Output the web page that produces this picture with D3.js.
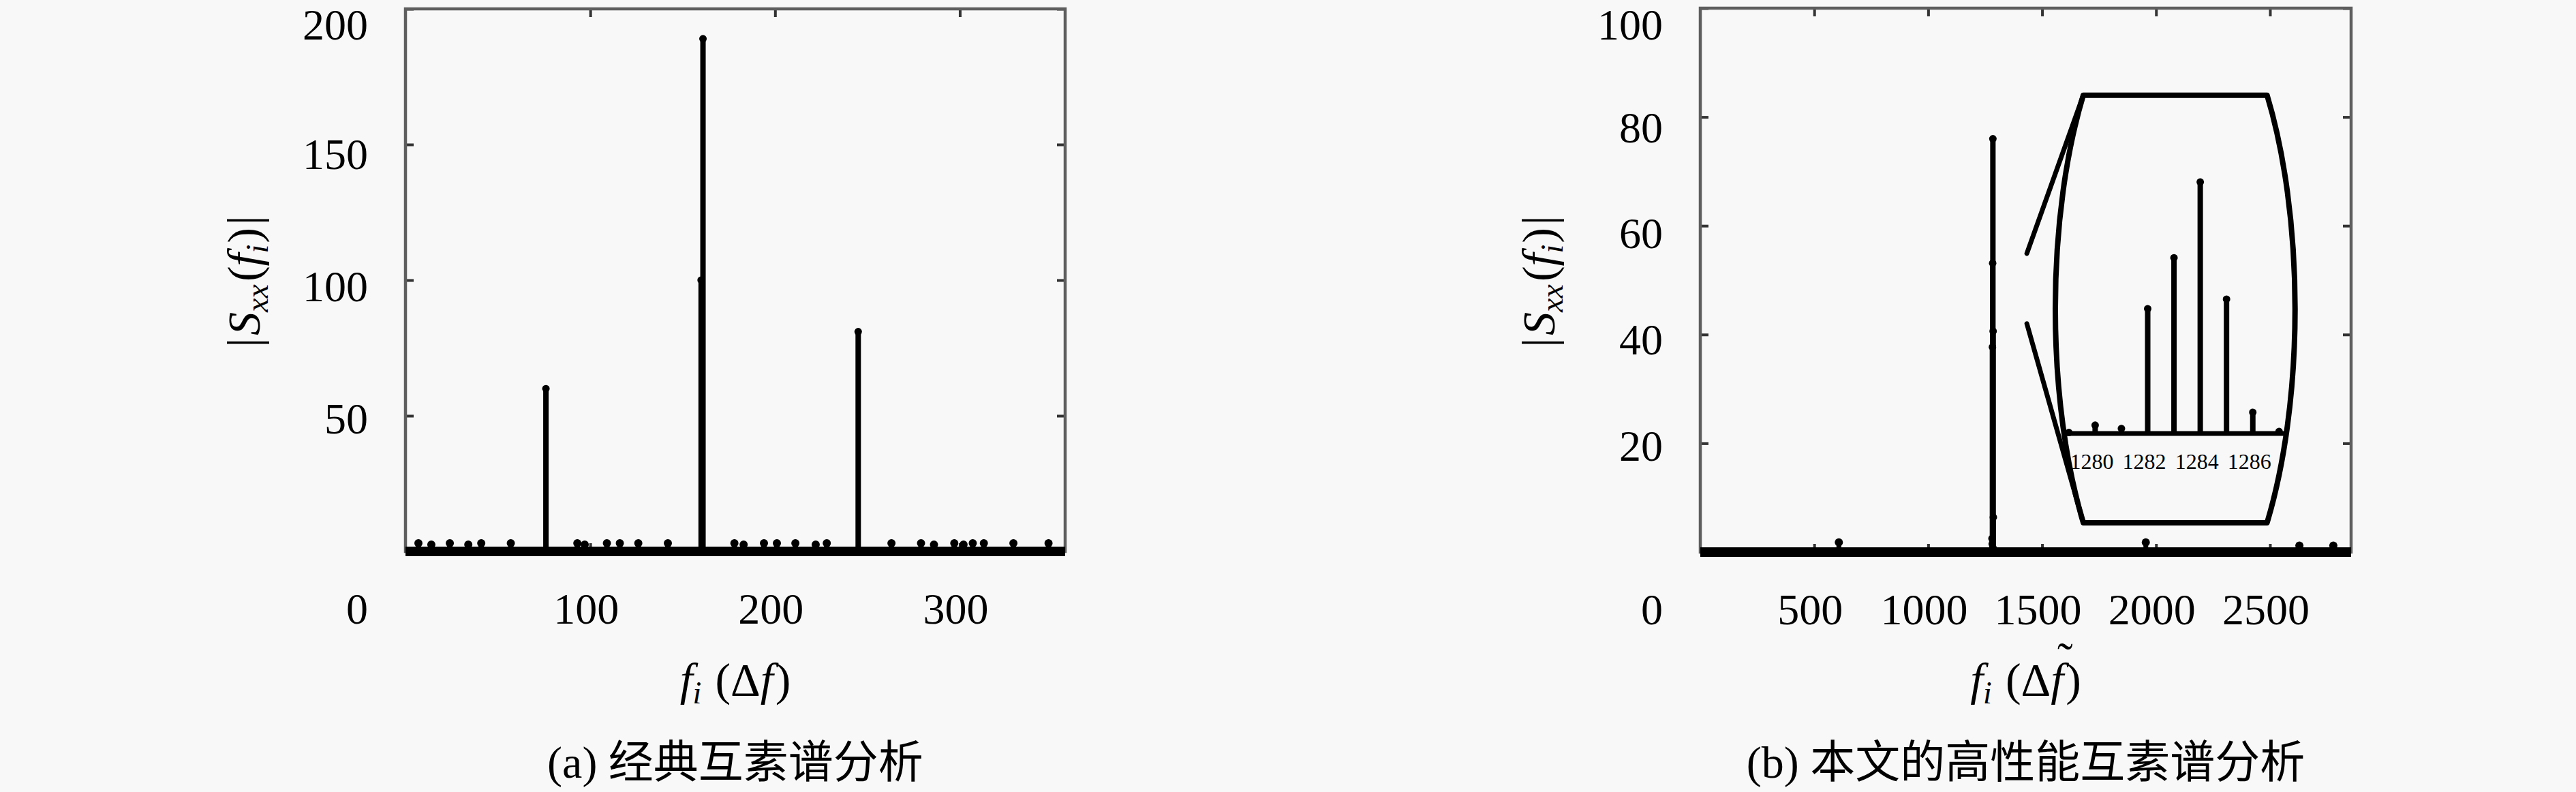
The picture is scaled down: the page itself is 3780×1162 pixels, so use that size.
<!DOCTYPE html>
<html><head><meta charset="utf-8">
<script src="https://cdn.jsdelivr.net/npm/d3@7/dist/d3.min.js"></script>
<style>
html,body{margin:0;padding:0;background:#f8f8f8;}
svg{display:block;}
text{font-family:"Liberation Serif","Noto Sans CJK SC",serif;fill:#000;}
</style></head><body>
<svg id="c" width="3780" height="1162"></svg>
<script>
// ---------- data ----------
// panel (a): classical co-prime cross spectrum
const aXTicks = [100, 200, 300];
const aYTicks = [50, 100, 150, 200];
const aNoiseBins = [7, 14, 24, 34, 41, 57, 93, 97, 109, 116, 126, 142, 178, 183, 194, 201, 211, 222, 228, 263, 279, 286, 297, 302, 307, 313, 329, 348];
const aNoiseVals = [3, 2.5, 3, 2.5, 3, 3, 3, 2.5, 3, 3, 3, 3, 3, 2.5, 3, 3, 3, 2.5, 3, 3, 3, 2.5, 3, 2.5, 3, 3, 3, 3];
const aPeakBins = [76, 160, 161, 245];
const aPeakVals = [60, 100, 189, 81];

// panel (b): high-performance co-prime cross spectrum
const bXTicks = [500, 1000, 1500, 2000, 2500];
const bYTicks = [20, 40, 60, 80, 100];
const bNoiseBins = [608, 1955, 2629, 2778];
const bNoiseVals = [1.8, 1.8, 1.2, 1.2];
const bPeakBins = [1279, 1280, 1281, 1282, 1283, 1284, 1285, 1286, 1287];
const bPeakVals = [0.3, 2.5, 1.5, 37.7, 53.1, 76, 40.6, 6.4, 0.6];
const insetTicks = [1280, 1282, 1284, 1286];

const captionA = "(a) 经典互素谱分析";
const captionB = "(b) 本文的高性能互素谱分析";

// ---------- drawing ----------
const svg = d3.select("#c");
svg.append("rect").attr("width", 3780).attr("height", 1162).attr("fill", "#f8f8f8");

function panel(cfg) {
  const x = d3.scaleLinear().domain(cfg.xDomain).range(cfg.xRange);
  const y = d3.scaleLinear().domain(cfg.yDomain).range(cfg.yRange);
  const g = svg.append("g");
  const tl = 12;
  // inward ticks on all four sides
  [[d3.axisBottom(x), y.range()[0]], [d3.axisTop(x), y.range()[1]]].forEach(([ax, ty]) => {
    const a = g.append("g").attr("transform", `translate(0,${ty})`)
      .call(ax.tickValues(cfg.xTicks).tickSize(-tl).tickFormat(""));
    a.select(".domain").remove();
    a.selectAll("line").attr("stroke", "#333").attr("stroke-width", 4);
  });
  [[d3.axisLeft(y), x.range()[0]], [d3.axisRight(y), x.range()[1]]].forEach(([ax, tx]) => {
    const a = g.append("g").attr("transform", `translate(${tx},0)`)
      .call(ax.tickValues(cfg.yTicks).tickSize(-tl).tickFormat(""));
    a.select(".domain").remove();
    a.selectAll("line").attr("stroke", "#333").attr("stroke-width", 4);
  });
  // frame
  g.append("rect")
    .attr("x", x.range()[0]).attr("y", y.range()[1])
    .attr("width", x.range()[1] - x.range()[0]).attr("height", y.range()[0] - y.range()[1])
    .attr("fill", "none").attr("stroke", "#5e5e5e").attr("stroke-width", 4.5);

  // stem baseline
  g.append("line")
    .attr("x1", x(cfg.xDomain[0])).attr("x2", x(cfg.xDomain[1]))
    .attr("y1", y(0)).attr("y2", y(0))
    .attr("stroke", "#000").attr("stroke-width", 14);

  function stems(bins, vals, w, r) {
    const d = bins.map((b, i) => ({ b, v: vals[i] }));
    g.append("g").selectAll("line").data(d).join("line")
      .attr("x1", p => x(p.b)).attr("x2", p => x(p.b))
      .attr("y1", y(0)).attr("y2", p => y(p.v))
      .attr("stroke", "#000").attr("stroke-width", w);
    g.append("g").selectAll("circle").data(d).join("circle")
      .attr("cx", p => x(p.b)).attr("cy", p => y(p.v)).attr("r", r).attr("fill", "#000");
  }
  stems(cfg.noiseBins, cfg.noiseVals, 7, 6);
  stems(cfg.peakBins, cfg.peakVals, 8, 5.5);

  // y tick labels
  const y0 = y(0);
  g.append("g").selectAll("text").data(cfg.yTicks).join("text")
    .attr("x", x.range()[0] - 55)
    .attr("y", v => Math.max(y(v) + 0.025 * (y0 - y(v)), 37))
    .attr("dy", "0.33em")
    .attr("text-anchor", "end").attr("font-size", 64)
    .text(v => v);
  // x tick labels
  g.append("g").selectAll("text").data(cfg.xTicks).join("text")
    .attr("x", v => x(v) - 6).attr("y", y0 + 106)
    .attr("text-anchor", "middle").attr("font-size", 64)
    .text(v => v);
  // origin label
  g.append("text").attr("x", x(0) - 71).attr("y", y0 + 106)
    .attr("text-anchor", "middle").attr("font-size", 64).text("0");

  const cx = (x.range()[0] + x.range()[1]) / 2;
  // x title
  const xt = g.append("text").attr("x", cx).attr("y", 1020)
    .attr("text-anchor", "middle").attr("font-size", 68);
  xt.append("tspan").attr("font-style", "italic").text("f");
  xt.append("tspan").attr("font-size", 46).attr("font-style", "italic").attr("dy", 12).text("i");
  xt.append("tspan").attr("dy", -12).attr("dx", 20).text("(Δ");
  const lastF = xt.append("tspan").attr("font-style", "italic").text("f");
  xt.append("tspan").attr("dx", 3).text(")");
  if (cfg.tilde) {
    const bb = lastF.node().getBBox();
    g.append("text").attr("x", bb.x + bb.width * 0.78).attr("y", 1020 - 30)
      .attr("text-anchor", "middle").attr("font-size", 68).text("˜");
  }
  // y title
  const yt = g.append("text")
    .attr("transform", `translate(${x.range()[0] - 214},${(y.range()[0] + y.range()[1]) / 2 + 2}) rotate(-90)`)
    .attr("text-anchor", "middle").attr("font-size", 68);
  yt.append("tspan").text("|");
  yt.append("tspan").attr("font-style", "italic").attr("dx", 4).text("S");
  yt.append("tspan").attr("font-style", "italic").attr("font-size", 46).attr("dy", 12).text("xx");
  yt.append("tspan").attr("dy", -12).attr("dx", 4).text("(");
  yt.append("tspan").attr("font-style", "italic").text("f");
  yt.append("tspan").attr("font-style", "italic").attr("font-size", 46).attr("dy", 12).text("i");
  yt.append("tspan").attr("dy", -12).attr("dx", 2).text(")");
  yt.append("tspan").attr("dx", 4).text("|");
  // caption
  g.append("text").attr("x", cx).attr("y", 1141)
    .attr("text-anchor", "middle").attr("font-size", 66).text(cfg.caption);
  return { x, y, g };
}

panel({
  xDomain: [0, 357], yDomain: [0, 200], xRange: [595, 1563], yRange: [809, 13],
  xTicks: aXTicks, yTicks: aYTicks,
  noiseBins: aNoiseBins, noiseVals: aNoiseVals, peakBins: aPeakBins, peakVals: aPeakVals,
  caption: captionA, tilde: false
});

const pb = panel({
  xDomain: [0, 2856], yDomain: [0, 100], xRange: [2495, 3450], yRange: [810, 12],
  xTicks: bXTicks, yTicks: bYTicks,
  noiseBins: bNoiseBins, noiseVals: bNoiseVals, peakBins: bPeakBins, peakVals: bPeakVals,
  caption: captionB, tilde: true
});

// ---------- magnifier annotation (in panel b data units) ----------
const mag = { cx: 2084, rx: 526, cy: 44.7, ry: 61.2, top: 84, bot: 5.4, fromX: 1433, fromTop: 54.9, fromBot: 42 };
{
  const { x, y, g } = pb;
  const cxp = x(mag.cx), rxp = x(mag.cx + mag.rx) - cxp;
  const cyp = y(mag.cy), ryp = y(mag.cy - mag.ry) - cyp;
  const yt = y(mag.top), yb = y(mag.bot);
  const hw = yy => rxp * Math.sqrt(1 - Math.pow((yy - cyp) / ryp, 2));
  const ht = hw(yt), hb = hw(yb);
  const path = `M${cxp - ht},${yt} L${cxp + ht},${yt} A${rxp},${ryp} 0 0 1 ${cxp + hb},${yb} L${cxp - hb},${yb} A${rxp},${ryp} 0 0 1 ${cxp - ht},${yt} Z`;
  g.append("path").attr("d", path).attr("fill", "#f8f8f8").attr("stroke", "#000")
    .attr("stroke-width", 8).attr("stroke-linejoin", "round");
  g.append("line").attr("x1", x(mag.fromX)).attr("y1", y(mag.fromTop)).attr("x2", cxp - ht).attr("y2", yt)
    .attr("stroke", "#000").attr("stroke-width", 7).attr("stroke-linecap", "round");
  g.append("line").attr("x1", x(mag.fromX)).attr("y1", y(mag.fromBot)).attr("x2", cxp - hb).attr("y2", yb)
    .attr("stroke", "#000").attr("stroke-width", 7).attr("stroke-linecap", "round");

  // inset stems
  const xi = d3.scaleLinear().domain([1278.9, 1287.2]).range([3032, 3352]);
  const yi = d3.scaleLinear().domain([0, 100]).range([636, 150.5]);
  const d = bPeakBins.map((b, i) => ({ b, v: bPeakVals[i] }));
  g.append("line").attr("x1", xi.range()[0]).attr("x2", xi.range()[1])
    .attr("y1", yi(0)).attr("y2", yi(0)).attr("stroke", "#000").attr("stroke-width", 7);
  g.append("g").selectAll("line").data(d).join("line")
    .attr("x1", p => xi(p.b)).attr("x2", p => xi(p.b))
    .attr("y1", yi(0)).attr("y2", p => yi(p.v))
    .attr("stroke", "#000").attr("stroke-width", 8);
  g.append("g").selectAll("circle").data(d).join("circle")
    .attr("cx", p => xi(p.b)).attr("cy", p => yi(p.v)).attr("r", 5.5).attr("fill", "#000");
  g.append("g").selectAll("text").data(insetTicks).join("text")
    .attr("x", v => xi(v) - 5).attr("y", yi(0) + 52)
    .attr("text-anchor", "middle").attr("font-size", 32).text(v => v);
}
</script>
</body></html>
